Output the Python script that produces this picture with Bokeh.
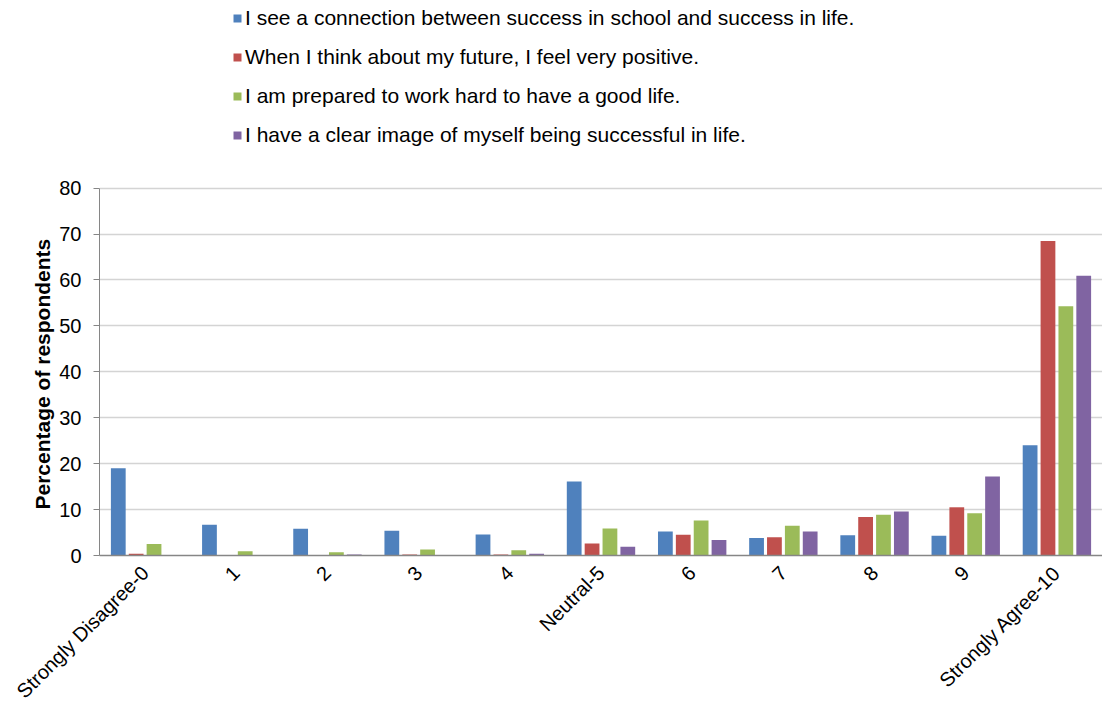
import math
from bokeh.plotting import figure
from bokeh.models import (FactorRange, Range1d, Legend, LegendItem, ColumnDataSource,
                          FixedTicker, Title)
from bokeh.transform import dodge
from bokeh.embed import file_html
from bokeh.resources import INLINE

categories = ["Strongly Disagree-0", "1", "2", "3", "4", "Neutral-5",
              "6", "7", "8", "9", "Strongly Agree-10"]

series_names = [
    "I see a connection between success in school and success in life.",
    "When I think about my future, I feel very positive.",
    "I am prepared to work hard to have a good life.",
    "I have a clear image of myself being successful in life.",
]

connection = [19.0, 6.7, 5.8, 5.4, 4.6, 16.1, 5.2, 3.8, 4.4, 4.3, 24.0]
positive = [0.4, 0.0, 0.0, 0.2, 0.2, 2.6, 4.5, 4.0, 8.4, 10.5, 68.5]
hard_work = [2.5, 0.9, 0.7, 1.3, 1.15, 5.9, 7.6, 6.5, 8.9, 9.2, 54.3]
clear_image = [0.1, 0.1, 0.2, 0.1, 0.4, 1.9, 3.4, 5.2, 9.6, 17.2, 60.9]

y_ticks = [0, 10, 20, 30, 40, 50, 60, 70, 80]
y_max = 80
y_title = "Percentage of respondents"

colors = ["#4F81BD", "#C0504D", "#9BBB59", "#8064A2"]
FONT = "Liberation Sans"

W, H = 1102, 713
LEFT, BOTTOM = 99, 157
TOP_PX = 188  # pixel row of the y_max gridline
frame_h = H - BOTTOM
y_top = y_max * frame_h / (frame_h - TOP_PX)   # extend range so legend area is inside frame

source = ColumnDataSource(data=dict(
    cat=categories, s0=connection, s1=positive, s2=hard_work, s3=clear_image))

p = figure(x_range=FactorRange(*categories, range_padding=0),
           y_range=Range1d(0, y_top),
           width=W, height=H,
           output_backend="svg", toolbar_location=None,
           min_border_left=LEFT, min_border_right=0,
           min_border_top=0, min_border_bottom=BOTTOM)

p.outline_line_color = None
p.background_fill_color = "white"
p.border_fill_color = "white"

offsets = [-0.294, -0.098, 0.098, 0.294]
renderers = []
for i, (off, col) in enumerate(zip(offsets, colors)):
    r = p.vbar(x=dodge("cat", off, range=p.x_range), top=f"s{i}", width=0.162,
               source=source, fill_color=col, line_color=None)
    renderers.append(r)

# grid
p.xgrid.grid_line_color = None
p.ygrid.grid_line_color = "#D4D4D4"
p.ygrid.grid_line_width = 1.5
p.ygrid.bounds = (0, y_max)
p.yaxis.ticker = FixedTicker(ticks=y_ticks)

# y axis
p.yaxis.bounds = (0, y_max)
p.yaxis.axis_line_color = "#868686"
p.yaxis.major_tick_line_color = "#868686"
p.yaxis.major_tick_out = 6
p.yaxis.major_tick_in = 0
p.yaxis.minor_tick_line_color = None
p.yaxis.major_label_standoff = 12
p.yaxis.major_label_text_font = FONT
p.yaxis.major_label_text_font_size = "20px"
p.yaxis.major_label_text_color = "black"

# y axis title (as a left-side title, so it is centred on the 0-80 span)
ytitle = Title(text=y_title, align="left", offset=46, standoff=6,
               text_font=FONT, text_font_size="21px", text_font_style="bold",
               text_color="black")
p.add_layout(ytitle, "left")

# x axis
p.xaxis.axis_line_color = "#868686"
p.xaxis.axis_line_width = 1.5
p.xaxis.major_tick_line_color = None
p.xaxis.minor_tick_line_color = None
p.xaxis.major_tick_out = 0
p.xaxis.major_label_orientation = math.pi / 4
p.xaxis.major_label_standoff = 14
p.xaxis.major_label_text_font = FONT
p.xaxis.major_label_text_font_size = "20px"
p.xaxis.major_label_text_color = "black"

items = [LegendItem(label=n, renderers=[r]) for n, r in zip(series_names, renderers)]
legend = Legend(items=items, location=(133, 408), orientation="vertical",
                border_line_color=None, background_fill_alpha=0,
                padding=0, margin=0, spacing=14, label_height=25,
                glyph_width=10, glyph_height=10, label_standoff=3,
                label_text_font=FONT, label_text_font_size="21px",
                label_text_color="black")
p.add_layout(legend, "center")

open("out.html", "w").write(file_html(p, INLINE))
